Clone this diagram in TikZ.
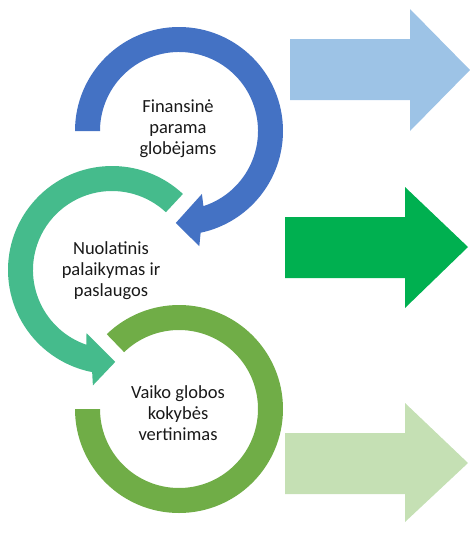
\documentclass[tikz,border=0pt]{standalone}
\usepackage{fontspec}
\setmainfont{Carlito}
\usetikzlibrary{calc, positioning}

\definecolor{ringblue}{HTML}{4472C4}
\definecolor{ringteal}{HTML}{45BB8C}
\definecolor{ringgreen}{HTML}{70AD47}
\definecolor{arrowlight}{HTML}{9DC3E6}
\definecolor{arrowgreen}{HTML}{00B050}
\definecolor{arrowpale}{HTML}{C5E0B4}

\begin{document}
\begin{tikzpicture}[x=1pt, y=1pt,
	ringtext/.style={align=center, font=\fontsize{18.5}{21}\selectfont, text=black!90}]
			\useasboundingbox (0,0) rectangle (470,-539);
			
			% Blue circular arrow
			\begin{scope}[shift={(179,-131)}]
				\fill[ringblue] (180:104) arc[start angle=180, end angle=-78, radius=104] -- (-80:117) -- (-92:92) -- (-70:67) -- (-72:79) arc[start angle=-72, end angle=180, radius=79] -- cycle;
			\end{scope}
			\node[ringtext] (finparama) at (178,-129) {Finansinė\\parama\\globėjams};
			
			% Teal circular arrow
			\begin{scope}[shift={(112,-270)}]
				\fill[ringteal] (47:104) arc[start angle=47, end angle=259, radius=104] -- (260.6:117) -- (272:92) -- (248:68) -- (251:79) arc[start angle=251, end angle=47, radius=79] -- cycle;
			\end{scope}
			\node[ringtext] (palaikymas) at (111,-271) {Nuolatinis\\palaikymas ir\\paslaugos};
			
			% Green ring
			\begin{scope}[shift={(179,-409)}]
				\fill[ringgreen] (180:104) arc[start angle=180, end angle=494, radius=104] -- (494:79) arc[start angle=494, end angle=180, radius=79] -- cycle;
			\end{scope}
			\node[ringtext] (vertinimas) at (178,-413) {Vaiko globos\\kokybės\\vertinimas};
			
			% Block arrows
			\fill[arrowlight] (290,-39) -- (410,-39) -- (410,-9) -- (470,-70) -- (410,-131) -- (410,-100) -- (290,-100) -- cycle;
			\fill[arrowgreen] (285,-217) -- (405,-217) -- (405,-187) -- (468,-247) -- (405,-308) -- (405,-278) -- (285,-278) -- cycle;
			\fill[arrowpale] (285,-433) -- (405,-433) -- (405,-403) -- (468,-463) -- (405,-522) -- (405,-494) -- (285,-494) -- cycle;
		\end{tikzpicture}
\end{document}
